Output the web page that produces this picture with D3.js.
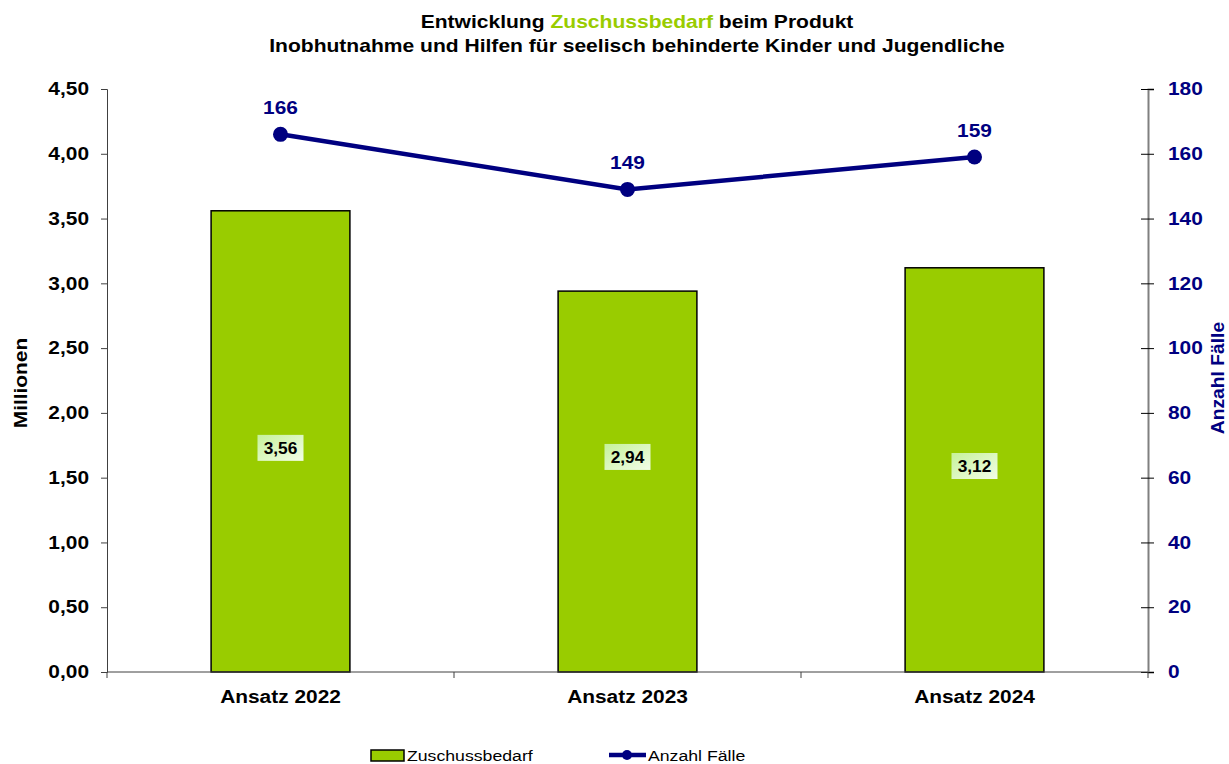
<!DOCTYPE html>
<html>
<head>
<meta charset="utf-8">
<script src="https://cdn.jsdelivr.net/npm/d3@7.9.0/dist/d3.min.js"></script>
<style>
  body { margin: 0; background: #fff; }
  svg { font-family: 'Liberation Sans', Arial, sans-serif; display: block; }
</style>
</head>
<body>
<svg width="1229" height="764"></svg>
<script>
const categories = ['Ansatz 2022', 'Ansatz 2023', 'Ansatz 2024'];
const zuschuss = [3.56, 2.94, 3.12];
const faelle = [166, 149, 159];
const leftTicks = [0, 0.5, 1, 1.5, 2, 2.5, 3, 3.5, 4, 4.5];
const rightTicks = [0, 20, 40, 60, 80, 100, 120, 140, 160, 180];
// where the value boxes sit inside the bars (in Millionen, as in the original)
const labelLevel = [1.73, 1.66, 1.59];

const svg = d3.select('svg');
const margin = { top: 89, right: 81, bottom: 92, left: 107 };
const width = 1229 - margin.left - margin.right;
const height = 764 - margin.top - margin.bottom;

const fmt = (v) => v.toFixed(2).replace('.', ',');

// the original renders its text a bit wider than Arial
const STRETCH = 1.16;
function stretch(sel, k = STRETCH) {
  sel.each(function () {
    const w = this.getComputedTextLength();
    d3.select(this).attr('textLength', w * k).attr('lengthAdjust', 'spacingAndGlyphs');
  });
}

const x = d3.scaleBand().domain(categories).range([0, width]);
const yL = d3.scaleLinear().domain([0, 4.5]).range([height, 0]);
const yR = d3.scaleLinear().domain([0, 180]).range([height, 0]);

// gradient for the bar labels
const defs = svg.append('defs');
const grad = defs.append('linearGradient').attr('id', 'lblGrad')
  .attr('x1', 0).attr('y1', 0).attr('x2', 1).attr('y2', 1);
grad.append('stop').attr('offset', '0%').attr('stop-color', '#c6f29a');
grad.append('stop').attr('offset', '100%').attr('stop-color', '#f2fde8');

// title (scaled horizontally as a group because of the coloured word)
const title = svg.append('text')
  .attr('transform', `translate(637,0) scale(${STRETCH + 0.01},1)`)
  .attr('text-anchor', 'middle')
  .attr('font-weight', 'bold')
  .attr('font-size', 18);
const t1 = title.append('tspan').attr('x', 0).attr('y', 28);
t1.append('tspan').text('Entwicklung ');
t1.append('tspan').attr('fill', '#99cc00').text('Zuschussbedarf');
t1.append('tspan').text(' beim Produkt');
title.append('tspan').attr('x', 0).attr('y', 52)
  .text('Inobhutnahme und Hilfen für seelisch behinderte Kinder und Jugendliche');

const g = svg.append('g').attr('transform', `translate(${margin.left},${margin.top})`);

// bars
const barW = x.bandwidth() * 0.4;
g.selectAll('rect.bar')
  .data(zuschuss)
  .join('rect')
  .attr('class', 'bar')
  .attr('x', (d, i) => x(categories[i]) + (x.bandwidth() - barW) / 2)
  .attr('y', (d) => yL(d))
  .attr('width', barW)
  .attr('height', (d) => height - yL(d))
  .attr('fill', '#99cc00')
  .attr('stroke', '#000')
  .attr('stroke-width', 1.5);

// bar value labels
zuschuss.forEach((d, i) => {
  const cx = x(categories[i]) + x.bandwidth() / 2;
  const cy = yL(labelLevel[i]);
  g.append('rect')
    .attr('x', cx - 23).attr('y', cy - 13)
    .attr('width', 46).attr('height', 26)
    .attr('fill', 'url(#lblGrad)');
  g.append('text')
    .attr('class', 'val')
    .attr('x', cx).attr('y', cy + 6)
    .attr('text-anchor', 'middle')
    .attr('font-weight', 'bold')
    .attr('font-size', 16)
    .attr('fill', '#000')
    .text(fmt(d));
});
stretch(g.selectAll('text.val'), 1.08);

// left axis
const axL = g.append('g')
  .call(d3.axisLeft(yL).tickValues(leftTicks).tickFormat(fmt).tickSize(6).tickPadding(12));
axL.select('.domain').attr('stroke', '#404040').attr('stroke-width', 1);
axL.selectAll('.tick line').attr('stroke', '#404040');
axL.selectAll('text').attr('font-size', 18).attr('font-weight', 'bold').attr('fill', '#000');
stretch(axL.selectAll('text'));

// right axis
const axR = g.append('g')
  .attr('transform', `translate(${width},0)`)
  .call(d3.axisRight(yR).tickValues(rightTicks).tickSize(6).tickPadding(14));
axR.select('.domain').attr('stroke', '#808080').attr('stroke-width', 2);
axR.selectAll('.tick line').attr('stroke', '#000').attr('x1', -7);
axR.selectAll('text').attr('font-size', 18).attr('font-weight', 'bold').attr('fill', '#000080');
stretch(axR.selectAll('text'));

// bottom axis
const axB = g.append('g')
  .attr('transform', `translate(0,${height})`)
  .call(d3.axisBottom(x).tickSize(0).tickPadding(18));
axB.select('.domain').attr('stroke', '#404040').attr('d', `M0,0H${width}`);
axB.selectAll('text').attr('font-size', 18).attr('font-weight', 'bold').attr('fill', '#000');
stretch(axB.selectAll('text'));
g.selectAll('line.sep')
  .data(d3.range(categories.length + 1))
  .join('line')
  .attr('class', 'sep')
  .attr('x1', (i) => i * x.step()).attr('x2', (i) => i * x.step())
  .attr('y1', height).attr('y2', height + 6)
  .attr('stroke', '#404040');

// axis titles
const yTitleL = svg.append('text')
  .attr('transform', `translate(27,383) rotate(-90)`)
  .attr('text-anchor', 'middle')
  .attr('font-weight', 'bold').attr('font-size', 18)
  .text('Millionen');
const yTitleR = svg.append('text')
  .attr('transform', `translate(1224,378) rotate(-90)`)
  .attr('text-anchor', 'middle')
  .attr('font-weight', 'bold').attr('font-size', 18)
  .attr('fill', '#000080')
  .text('Anzahl Fälle');
stretch(yTitleL);
stretch(yTitleR, 1.07);

// line
const line = d3.line()
  .x((d, i) => x(categories[i]) + x.bandwidth() / 2)
  .y((d) => yR(d));
g.append('path')
  .datum(faelle)
  .attr('d', line)
  .attr('fill', 'none')
  .attr('stroke', '#000080')
  .attr('stroke-width', 4.5);
g.selectAll('circle.pt')
  .data(faelle)
  .join('circle')
  .attr('class', 'pt')
  .attr('cx', (d, i) => x(categories[i]) + x.bandwidth() / 2)
  .attr('cy', (d) => yR(d))
  .attr('r', 7.5)
  .attr('fill', '#000080');
g.selectAll('text.pt')
  .data(faelle)
  .join('text')
  .attr('class', 'pt')
  .attr('x', (d, i) => x(categories[i]) + x.bandwidth() / 2)
  .attr('y', (d) => yR(d) - 20)
  .attr('text-anchor', 'middle')
  .attr('font-weight', 'bold').attr('font-size', 18)
  .attr('fill', '#000080')
  .text((d) => d);
stretch(g.selectAll('text.pt'));

// legend
const lg = svg.append('g');
lg.append('rect')
  .attr('x', 371).attr('y', 750).attr('width', 33).attr('height', 11)
  .attr('fill', '#99cc00').attr('stroke', '#000').attr('stroke-width', 1.5);
lg.append('text').attr('x', 407).attr('y', 761)
  .attr('font-size', 15.5).text('Zuschussbedarf');
lg.append('line')
  .attr('x1', 609).attr('x2', 646).attr('y1', 755).attr('y2', 755)
  .attr('stroke', '#000080').attr('stroke-width', 4.5);
lg.append('circle').attr('cx', 627).attr('cy', 755).attr('r', 5).attr('fill', '#000080');
lg.append('text').attr('x', 648).attr('y', 761)
  .attr('font-size', 15.5).text('Anzahl Fälle');
stretch(lg.selectAll('text'), 1.14);
</script>
</body>
</html>
